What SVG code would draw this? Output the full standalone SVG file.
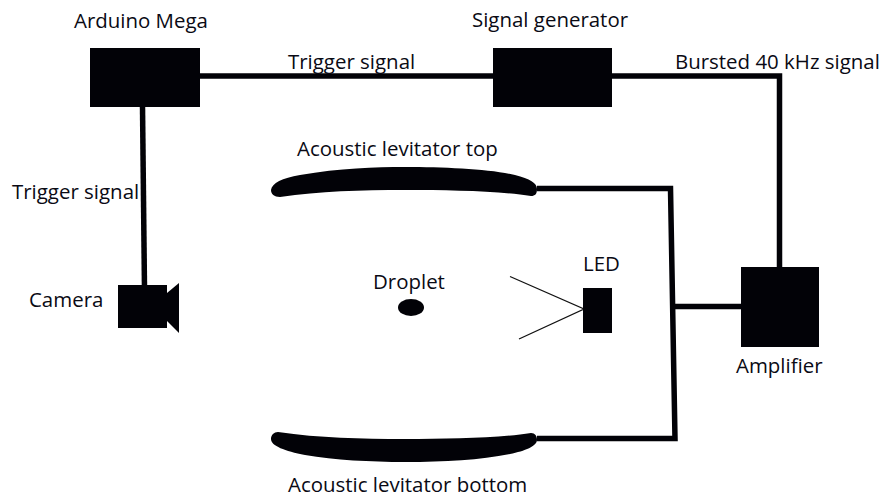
<svg xmlns="http://www.w3.org/2000/svg" width="885" height="497" viewBox="0 0 885 497">
<style>
text{font-family:"Open Sans","Noto Sans",sans-serif;font-size:20.45px;fill:#0a0a14}
.b{fill:#020207}
.w{fill:none;stroke:#020207;stroke-width:5.5}
.t{fill:none;stroke:#111;stroke-width:1.3}
</style>
<rect width="885" height="497" fill="#fff"/>
<g id="connectors">
<path class="w" d="M200 76H495"/>
<path class="w" d="M612 76H779.500V268"/>
<path class="w" d="M142.500 106L144.500 290"/>
<path class="w" d="M537 188.500H670.500L675 438.500H537"/>
<path class="w" d="M670 306.500H742"/>
<path class="t" d="M510 276.500L584 309L519 339"/>
</g>
<g id="arduino"><rect class="b" x="90" y="48" width="110" height="59"/><text x="74" y="28">Arduino Mega</text></g>
<g id="signal-generator"><rect class="b" x="493" y="48" width="119" height="59"/><text x="472" y="27">Signal generator</text></g>
<g id="amplifier"><rect class="b" x="741" y="267" width="78" height="80"/><text x="736" y="373">Amplifier</text></g>
<g id="camera"><rect class="b" x="118" y="285" width="49" height="43"/><path class="b" d="M167 293L179 283V333L167 321Z"/><text x="29" y="307">Camera</text></g>
<g id="led"><rect class="b" x="583" y="288" width="29" height="45"/><text x="583" y="271">LED</text></g>
<g id="droplet"><ellipse class="b" cx="411" cy="307.500" rx="13" ry="8.500"/><text x="373" y="289">Droplet</text></g>
<g id="levitator-top"><path class="b" d="M271 190C272 183 282 178 300 175C340 168 375 167 405 167C445 167 490 169 515 175C530 179 537 183 537 189C537 194 535 196 531 196C500 191 450 190 405 190C360 190 320 191 280 197C274 197 271 194 271 190Z"/><text x="297" y="156">Acoustic levitator top</text></g>
<g id="levitator-bottom"><path class="b" d="M271 439C271 435 274 432 278 432C320 438 360 439 405 439C450 439 500 438 531 433C535 433 537 436 537 440C537 446 525 451 510 454C480 460 445 462 405 462C370 462 335 460 305 455C285 451 271 446 271 439Z"/><text x="288" y="492">Acoustic levitator bottom</text></g>
<g id="labels"><text x="288" y="69">Trigger signal</text><text x="675" y="69">Bursted 40 kHz signal</text><text x="12" y="199">Trigger signal</text></g>
</svg>
